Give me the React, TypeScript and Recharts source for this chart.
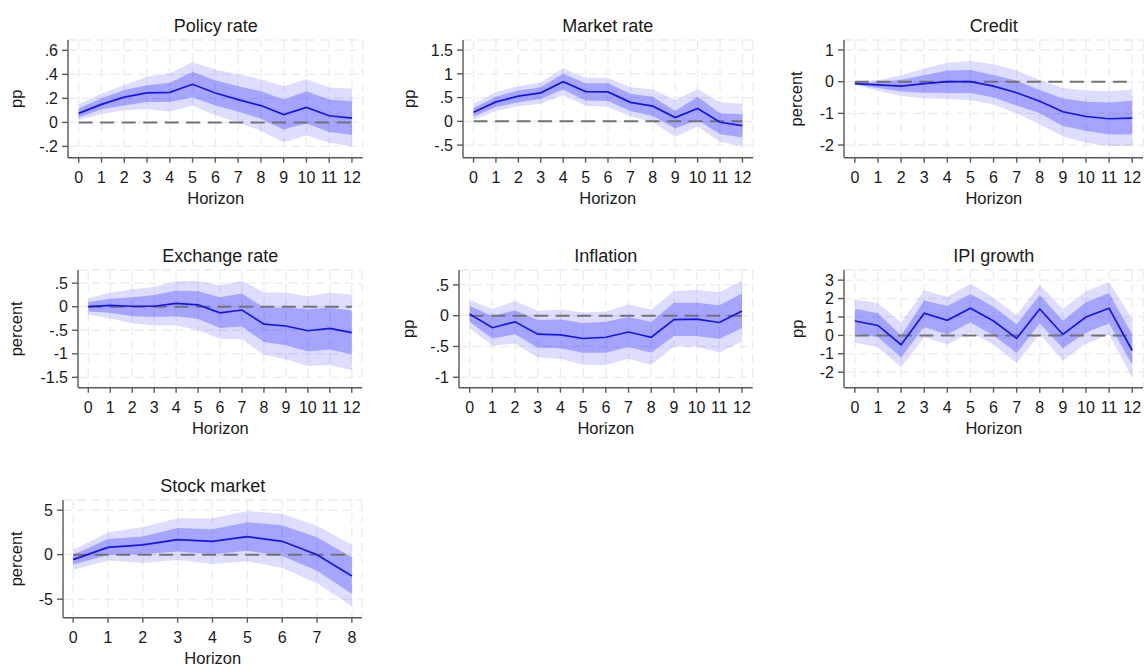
import React from 'react';
import { ComposedChart, Area, Line, XAxis, YAxis, CartesianGrid, ReferenceLine } from 'recharts';

// Horizons (x axis)
const horizons12 = [0, 1, 2, 3, 4, 5, 6, 7, 8, 9, 10, 11, 12];
const horizons8 = [0, 1, 2, 3, 4, 5, 6, 7, 8];

// Policy rate (pp)
const policyIrf = [0.075, 0.15, 0.21, 0.245, 0.25, 0.317, 0.245, 0.19, 0.14, 0.065, 0.125, 0.055, 0.035];
const policyHi68 = [0.115, 0.2, 0.27, 0.31, 0.33, 0.42, 0.35, 0.3, 0.26, 0.19, 0.26, 0.19, 0.175];
const policyLo68 = [0.04, 0.11, 0.14, 0.17, 0.17, 0.21, 0.14, 0.09, 0.03, -0.06, -0.01, -0.08, -0.105];
const policyHi90 = [0.15, 0.24, 0.31, 0.38, 0.41, 0.5, 0.44, 0.4, 0.36, 0.3, 0.36, 0.29, 0.28];
const policyLo90 = [0.02, 0.07, 0.1, 0.11, 0.09, 0.14, 0.06, 0.0, -0.07, -0.165, -0.11, -0.17, -0.2];
const policyTicks = [-0.2, 0, 0.2, 0.4, 0.6];

// Market rate (pp)
const marketIrf = [0.19, 0.41, 0.53, 0.6, 0.835, 0.625, 0.62, 0.4, 0.32, 0.08, 0.27, -0.02, -0.09];
const marketHi68 = [0.28, 0.52, 0.65, 0.72, 1.0, 0.8, 0.8, 0.58, 0.52, 0.22, 0.52, 0.17, 0.15];
const marketLo68 = [0.1, 0.3, 0.4, 0.47, 0.67, 0.44, 0.43, 0.22, 0.11, -0.15, 0.03, -0.27, -0.34];
const marketHi90 = [0.37, 0.62, 0.74, 0.82, 1.12, 0.92, 0.91, 0.72, 0.67, 0.45, 0.68, 0.4, 0.37];
const marketLo90 = [0.03, 0.22, 0.32, 0.37, 0.55, 0.33, 0.3, 0.1, -0.02, -0.33, -0.11, -0.43, -0.53];
const marketTicks = [-0.5, 0, 0.5, 1, 1.5];

// Credit (percent)
const creditIrf = [-0.06, -0.1, -0.14, -0.06, 0, 0, -0.14, -0.35, -0.62, -0.95, -1.1, -1.17, -1.15];
const creditHi68 = [-0.03, -0.02, 0.06, 0.2, 0.35, 0.37, 0.21, 0.03, -0.26, -0.53, -0.63, -0.66, -0.6];
const creditLo68 = [-0.09, -0.2, -0.31, -0.35, -0.36, -0.36, -0.5, -0.75, -1.0, -1.4, -1.55, -1.67, -1.66];
const creditHi90 = [-0.02, 0.05, 0.2, 0.42, 0.6, 0.65, 0.55, 0.35, 0.05, -0.2, -0.27, -0.3, -0.25];
const creditLo90 = [-0.1, -0.28, -0.45, -0.52, -0.55, -0.58, -0.72, -1.0, -1.35, -1.72, -1.93, -2.03, -2.03];
const creditTicks = [-2, -1, 0, 1];

// Exchange rate (percent)
const fxIrf = [0, 0.03, 0.01, 0.01, 0.07, 0.04, -0.13, -0.07, -0.37, -0.41, -0.51, -0.46, -0.55];
const fxHi68 = [0.1, 0.17, 0.2, 0.25, 0.34, 0.33, 0.2, 0.28, -0.02, -0.02, -0.05, -0.02, -0.08];
const fxLo68 = [-0.1, -0.13, -0.2, -0.22, -0.2, -0.26, -0.45, -0.42, -0.75, -0.82, -0.95, -0.91, -1.01];
const fxHi90 = [0.18, 0.3, 0.37, 0.42, 0.54, 0.55, 0.45, 0.55, 0.3, 0.3, 0.22, 0.3, 0.26];
const fxLo90 = [-0.17, -0.25, -0.35, -0.4, -0.4, -0.5, -0.68, -0.69, -1.02, -1.12, -1.26, -1.24, -1.35];
const fxTicks = [-1.5, -1, -0.5, 0, 0.5];

// Inflation (pp)
const inflIrf = [0.027, -0.195, -0.1, -0.3, -0.31, -0.37, -0.35, -0.265, -0.35, -0.065, -0.055, -0.11, 0.075];
const inflHi68 = [0.16, -0.01, 0.09, -0.07, -0.06, -0.12, -0.1, -0.02, -0.1, 0.21, 0.21, 0.17, 0.36];
const inflLo68 = [-0.1, -0.37, -0.3, -0.52, -0.53, -0.6, -0.6, -0.51, -0.6, -0.33, -0.33, -0.38, -0.2];
const inflHi90 = [0.26, 0.11, 0.24, 0.08, 0.1, 0.05, 0.07, 0.18, 0.1, 0.4, 0.42, 0.38, 0.57];
const inflLo90 = [-0.2, -0.49, -0.45, -0.68, -0.7, -0.8, -0.8, -0.7, -0.8, -0.5, -0.5, -0.6, -0.42];
const inflTicks = [-1, -0.5, 0, 0.5];

// IPI growth (pp)
const ipiIrf = [0.78, 0.54, -0.51, 1.2, 0.82, 1.47, 0.78, -0.16, 1.43, 0.05, 1.0, 1.47, -0.82];
const ipiHi68 = [1.45, 1.2, 0.0, 1.9, 1.6, 2.25, 1.55, 0.6, 2.2, 0.8, 1.8, 2.3, 0.05];
const ipiLo68 = [0.1, -0.1, -1.2, 0.45, 0.05, 0.7, 0.0, -0.95, 0.65, -0.7, 0.15, 0.65, -1.6];
const ipiHi90 = [1.95, 1.75, 0.7, 2.45, 2.1, 2.8, 2.05, 1.1, 2.75, 1.45, 2.4, 2.9, 0.9];
const ipiLo90 = [-0.4, -0.65, -1.75, -0.1, -0.5, 0.15, -0.5, -1.5, 0.05, -1.35, -0.45, 0.05, -2.3];
const ipiTicks = [-2, -1, 0, 1, 2, 3];

// Stock market (percent)
const stockIrf = [-0.56, 0.82, 1.09, 1.69, 1.5, 2.02, 1.5, 0, -2.4];
const stockHi68 = [0.0, 1.75, 2.05, 3.0, 2.85, 3.65, 3.3, 1.95, -0.3];
const stockLo68 = [-1.1, -0.05, 0.05, 0.35, 0.05, 0.45, -0.15, -1.8, -4.4];
const stockHi90 = [0.55, 2.5, 3.1, 4.1, 4.1, 4.9, 4.6, 3.25, 1.1];
const stockLo90 = [-1.7, -0.65, -0.95, -0.6, -1.05, -0.75, -1.5, -3.2, -5.8];
const stockTicks = [-5, 0, 5];

const FONT = '"Liberation Sans", Arial, Helvetica, sans-serif';
const BAND_COLOR = '#0000ff';
const LINE_COLOR = '#1414f0';
const AXIS_COLOR = '#5a5a5a';
const TEXT_COLOR = '#1a1a1a';

// Stata-style labels: drop the leading zero (".5", "-.2")
const fmtTick = (v: number) => String(v).replace(/^(-?)0\./, '$1.');

type Row = { h: number; irf: number; band68: [number, number]; band90: [number, number] };

const buildRows = (hs: number[], irf: number[], lo68: number[], hi68: number[], lo90: number[], hi90: number[]): Row[] =>
  hs.map((h, i) => ({ h, irf: irf[i], band68: [lo68[i], hi68[i]], band90: [lo90[i], hi90[i]] }));

type Panel = {
  title: string;
  yLabel: string;
  rows: Row[];
  xTicks: number[];
  xDomain: [number, number];
  yTicks: number[];
  yDomain: [number, number];
  left: number;
  top: number;
  right: number;
  bottom: number;
  yLabelX: number;
};

const ROW_TOPS = [40, 270, 500];
const PH = 117.7;

const panels: Panel[] = [
  {
    title: 'Policy rate', yLabel: 'pp',
    rows: buildRows(horizons12, policyIrf, policyLo68, policyHi68, policyLo90, policyHi90),
    xTicks: horizons12, xDomain: [-0.47, 12.47], yTicks: policyTicks, yDomain: [-0.294, 0.686],
    left: 68.3, top: ROW_TOPS[0], right: 363, bottom: ROW_TOPS[0] + PH, yLabelX: 22,
  },
  {
    title: 'Market rate', yLabel: 'pp',
    rows: buildRows(horizons12, marketIrf, marketLo68, marketHi68, marketLo90, marketHi90),
    xTicks: horizons12, xDomain: [-0.47, 12.47], yTicks: marketTicks, yDomain: [-0.765, 1.712],
    left: 462.7, top: ROW_TOPS[0], right: 752.7, bottom: ROW_TOPS[0] + PH, yLabelX: 415,
  },
  {
    title: 'Credit', yLabel: 'percent',
    rows: buildRows(horizons12, creditIrf, creditLo68, creditHi68, creditLo90, creditHi90),
    xTicks: horizons12, xDomain: [-0.47, 12.47], yTicks: creditTicks, yDomain: [-2.4, 1.316],
    left: 844.3, top: ROW_TOPS[0], right: 1143.4, bottom: ROW_TOPS[0] + PH, yLabelX: 801.6,
  },
  {
    title: 'Exchange rate', yLabel: 'percent',
    rows: buildRows(horizons12, fxIrf, fxLo68, fxHi68, fxLo90, fxHi90),
    xTicks: horizons12, xDomain: [-0.47, 12.47], yTicks: fxTicks, yDomain: [-1.72, 0.78],
    left: 78.3, top: ROW_TOPS[1], right: 362.4, bottom: ROW_TOPS[1] + PH, yLabelX: 21.6,
  },
  {
    title: 'Inflation', yLabel: 'pp',
    rows: buildRows(horizons12, inflIrf, inflLo68, inflHi68, inflLo90, inflHi90),
    xTicks: horizons12, xDomain: [-0.47, 12.47], yTicks: inflTicks, yDomain: [-1.169, 0.742],
    left: 459, top: ROW_TOPS[1], right: 752.7, bottom: ROW_TOPS[1] + PH, yLabelX: 414,
  },
  {
    title: 'IPI growth', yLabel: 'pp',
    rows: buildRows(horizons12, ipiIrf, ipiLo68, ipiHi68, ipiLo90, ipiHi90),
    xTicks: horizons12, xDomain: [-0.47, 12.47], yTicks: ipiTicks, yDomain: [-2.84, 3.55],
    left: 844.3, top: ROW_TOPS[1], right: 1143.4, bottom: ROW_TOPS[1] + PH, yLabelX: 803,
  },
  {
    title: 'Stock market', yLabel: 'percent',
    rows: buildRows(horizons8, stockIrf, stockLo68, stockHi68, stockLo90, stockHi90),
    xTicks: horizons8, xDomain: [-0.29, 8.29], yTicks: stockTicks, yDomain: [-7.08, 6.14],
    left: 63.3, top: ROW_TOPS[2], right: 362.3, bottom: ROW_TOPS[2] + PH, yLabelX: 21.6,
  },
];

const Y_AXIS_W = 60;
const X_AXIS_H = 40;
const PAD = 6;

function IrfPanel({ p }: { p: Panel }) {
  const pw = p.right - p.left;
  const ph = p.bottom - p.top;
  const w = Y_AXIS_W + pw + PAD;
  const h = PAD + ph + X_AXIS_H;
  const lastH = p.xTicks[p.xTicks.length - 1];
  const tickStyle = { fontSize: 16, fill: TEXT_COLOR, fontFamily: FONT };
  return (
    <div style={{ position: 'absolute', left: p.left - Y_AXIS_W, top: p.top - PAD, width: w, height: h }}>
      <ComposedChart width={w} height={h} data={p.rows} margin={{ top: PAD, right: PAD, bottom: 0, left: 0 }}>
        <CartesianGrid stroke="#ececec" strokeWidth={1.3} strokeDasharray="9 5" />
        <XAxis
          dataKey="h" type="number" domain={p.xDomain} ticks={p.xTicks} allowDataOverflow interval={0}
          height={X_AXIS_H} tickSize={5} tickMargin={9} tick={tickStyle}
          axisLine={{ stroke: AXIS_COLOR, strokeWidth: 1.4 }} tickLine={{ stroke: AXIS_COLOR, strokeWidth: 1.4 }}
        />
        <YAxis
          type="number" domain={p.yDomain} ticks={p.yTicks} allowDataOverflow interval={0}
          width={Y_AXIS_W} tickSize={6} tickMargin={4} tick={tickStyle} tickFormatter={fmtTick}
          axisLine={{ stroke: AXIS_COLOR, strokeWidth: 1.4 }} tickLine={{ stroke: AXIS_COLOR, strokeWidth: 1.4 }}
        />
        <Area dataKey="band90" type="linear" stroke="none" fill={BAND_COLOR} fillOpacity={0.135}
          isAnimationActive={false} dot={false} activeDot={false} />
        <Area dataKey="band68" type="linear" stroke="none" fill={BAND_COLOR} fillOpacity={0.25}
          isAnimationActive={false} dot={false} activeDot={false} />
        <ReferenceLine segment={[{ x: 0, y: 0 }, { x: lastH, y: 0 }]} stroke="#727272" strokeWidth={2}
          strokeDasharray="14 7.5" />
        <Line dataKey="irf" type="linear" stroke={LINE_COLOR} strokeWidth={1.7} dot={false} activeDot={false}
          isAnimationActive={false} />
      </ComposedChart>
    </div>
  );
}

export default function App() {
  return (
    <div style={{ position: 'absolute', left: 0, top: 0, width: 1145, height: 666, background: '#ffffff', overflow: 'hidden' }}>
      {panels.map((p) => (
        <IrfPanel key={p.title} p={p} />
      ))}
      <svg width={1145} height={666} style={{ position: 'absolute', left: 0, top: 0, pointerEvents: 'none' }}>
        {panels.map((p) => {
          const cx = (p.left + p.right) / 2;
          const cy = (p.top + p.bottom) / 2;
          return (
            <g key={p.title} fontFamily={FONT} fill={TEXT_COLOR}>
              <text x={cx} y={p.top - 8.3} textAnchor="middle" fontSize={18}>{p.title}</text>
              <text x={cx} y={p.bottom + 46} textAnchor="middle" fontSize={16.5}>Horizon</text>
              <text x={p.yLabelX} y={cy} textAnchor="middle" fontSize={16.5}
                transform={`rotate(-90 ${p.yLabelX} ${cy})`}>{p.yLabel}</text>
            </g>
          );
        })}
      </svg>
    </div>
  );
}
